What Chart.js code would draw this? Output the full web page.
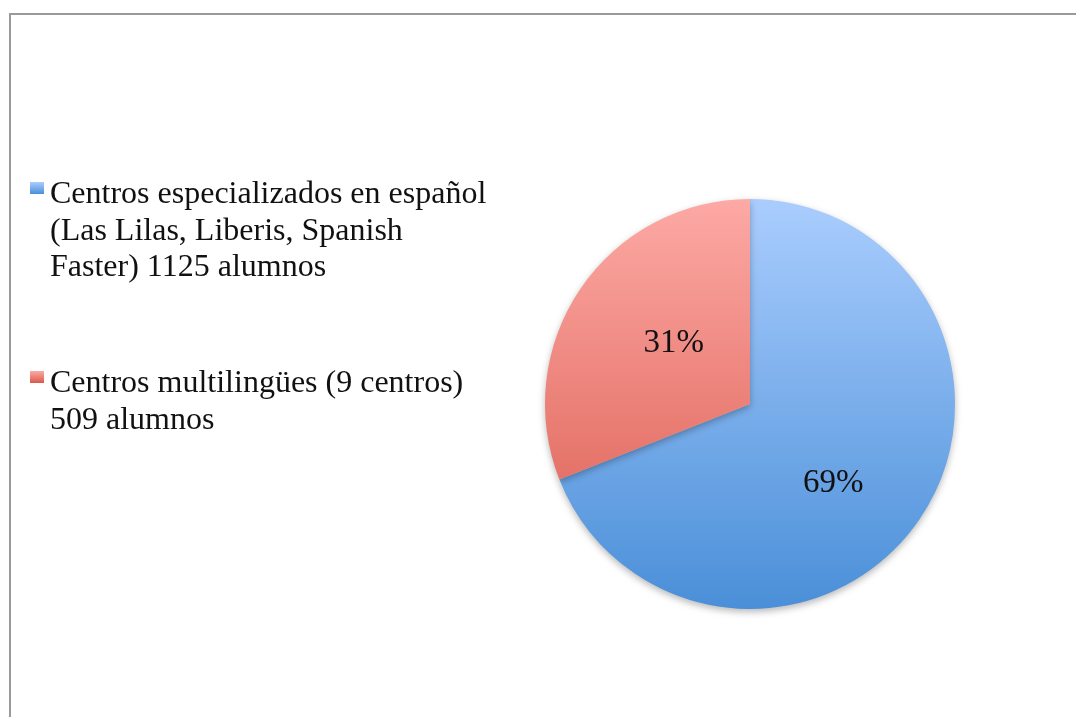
<!DOCTYPE html>
<html>
<head>
<meta charset="utf-8">
<script src="https://cdn.jsdelivr.net/npm/chart.js@4"></script>
<style>
    body { margin: 0; background: #fff; }
    #wrap { position: relative; width: 1076px; height: 717px; overflow: hidden; }
    #frame { position: absolute; left: 9px; top: 13px; width: 1100px; height: 800px;
             border-top: 2px solid #9a9a9a; border-left: 2px solid #9a9a9a; }
    #chart { position: absolute; left: 0; top: 0; }
    .legend-item { position: absolute; left: 50px; width: 480px; font-family: "Liberation Serif", serif;
                   font-size: 32px; line-height: 36.5px; color: #111; white-space: nowrap; }
    .legend-box { position: absolute; left: -20px; top: 8px; width: 14px; height: 12px; }
</style>
</head>
<body>
<div id="wrap">
    <div id="frame"></div>
    <canvas id="chart" width="1076" height="717"></canvas>
    <div id="legend"></div>
</div>
<script>
const labels = [
    ['Centros especializados en español', '(Las Lilas, Liberis, Spanish', 'Faster) 1125 alumnos'],
    ['Centros multilingües (9 centros)', '509 alumnos']
]
const values = [69, 31]
const percentLabels = ['69%', '31%']
const topColors = ['#aacdfe', '#fda9a5']
const bottomColors = ['#4a8fd8', '#d9594c']
const legendTops = [174, 363]
// small label nudges, excel does not put them exactly on the bisector
const labelNudge = [[-5, 19], [12, -1]]

// legend on the left, one div per entry
const legend = document.getElementById('legend')
labels.forEach((lines, i) => {
    let item = document.createElement('div')
    item.className = 'legend-item'
    item.style.top = legendTops[i] + 'px'
    let box = document.createElement('div')
    box.className = 'legend-box'
    box.style.background = `linear-gradient(${topColors[i]}, ${bottomColors[i]})`
    item.append(box)
    item.innerHTML += lines.join('<br>')
    legend.append(item)
})

function sliceGradient(context) {
    const chart = context.chart
    const area = chart.chartArea
    if (!area) return topColors[context.dataIndex]
    const g = chart.ctx.createLinearGradient(0, area.top, 0, area.bottom)
    g.addColorStop(0, topColors[context.dataIndex])
    g.addColorStop(1, bottomColors[context.dataIndex])
    return g
}

const shadowPlugin = {
    id: 'shadow',
    beforeDatasetsDraw(chart) {
        const ctx = chart.ctx
        ctx.save()
        ctx.shadowColor = 'rgba(0,0,0,0.28)'
        ctx.shadowBlur = 7
        ctx.shadowOffsetY = 3
    },
    afterDatasetsDraw(chart) {
        chart.ctx.restore()
    }
}

const percentPlugin = {
    id: 'percent',
    afterDraw(chart) {
        const ctx = chart.ctx
        const meta = chart.getDatasetMeta(0)
        ctx.save()
        ctx.font = '33px "Liberation Serif", serif'
        ctx.fillStyle = '#111'
        ctx.textAlign = 'center'
        ctx.textBaseline = 'middle'
        meta.data.forEach((arc, i) => {
            const mid = (arc.startAngle + arc.endAngle) / 2
            const d = arc.outerRadius * 0.52
            ctx.fillText(percentLabels[i], arc.x + Math.cos(mid) * d + labelNudge[i][0], arc.y + Math.sin(mid) * d + labelNudge[i][1])
        })
        ctx.restore()
    }
}

new Chart(document.getElementById('chart'), {
    type: 'pie',
    data: {
        labels: labels.map(l => l.join(' ')),
        datasets: [{
            data: values,
            backgroundColor: sliceGradient,
            borderWidth: 0
        }]
    },
    options: {
        responsive: false,
        animation: false,
        layout: { padding: { left: 545, right: 121, top: 199, bottom: 108 } },
        plugins: {
            legend: { display: false },
            tooltip: { enabled: false }
        }
    },
    plugins: [shadowPlugin, percentPlugin]
})
</script>
</body>
</html>
